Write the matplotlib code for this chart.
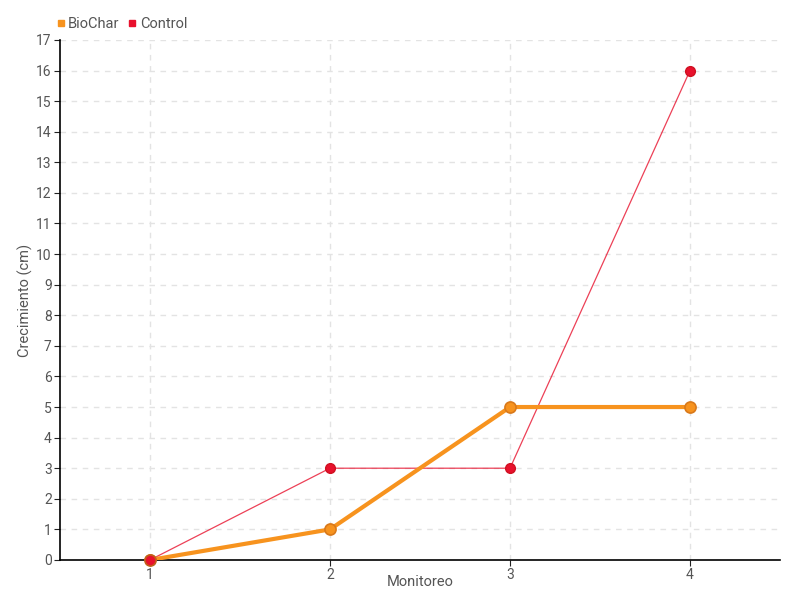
import matplotlib
matplotlib.use("Agg")
import matplotlib.pyplot as plt
from matplotlib.lines import Line2D

# --------------------------
# Data
# --------------------------
monitoreo = [1, 2, 3, 4]
biochar = [0, 1, 5, 5]
control = [0, 3, 3, 16]
yticks = list(range(0, 18))

ORANGE = "#F7931E"
ORANGE_EDGE = "#D9791A"
RED = "#E8112D"
TEXT = "#555555"

plt.rcParams["font.family"] = ["Liberation Sans Narrow", "Roboto", "DejaVu Sans"]

fig = plt.figure(figsize=(8, 6), dpi=100)
ax = fig.add_axes([0.075, 0.0667, 0.9, 0.8667])

ax.plot(monitoreo, control, color=RED, linewidth=0.9, alpha=0.8, zorder=3)
ax.plot(monitoreo, control, linestyle="none", marker="o", markersize=7,
        color=RED, markeredgecolor="#D01020", zorder=4)
ax.plot(monitoreo, biochar, color=ORANGE, linewidth=3, zorder=3,
        marker="o", markersize=8, markerfacecolor=ORANGE,
        markeredgecolor=ORANGE_EDGE, markeredgewidth=1.2)
# control marker at first point sits on top
ax.plot(monitoreo[:1], control[:1], linestyle="none", marker="o", markersize=8,
        color=RED, markeredgecolor="#C0601A", markeredgewidth=1.2, zorder=6,
        clip_on=False)

ax.set_xlim(0.5, 4.5)
ax.set_ylim(0, 17)
ax.set_xticks(monitoreo)
ax.set_yticks(yticks)
ax.tick_params(colors="#222222", labelcolor=TEXT, labelsize=10, length=4,
               direction="out", pad=2)
ax.grid(True, color="#E3E3E3", linestyle=(0, (4, 4)), linewidth=1)
ax.set_axisbelow(True)
for s in ["top", "right"]:
    ax.spines[s].set_visible(False)
ax.spines["left"].set_linewidth(1.2)
ax.spines["bottom"].set_linewidth(1.2)

ax.set_xlabel("Monitoreo", color=TEXT, fontsize=10.5)
ax.set_ylabel("Crecimiento (cm)", color=TEXT, fontsize=10.5)
ax.xaxis.set_label_coords(0.5, -0.028, transform=ax.transAxes)
ax.yaxis.set_label_coords(-0.037, 0.5, transform=ax.transAxes)

handles = [
    Line2D([], [], linestyle="none", marker="s", markersize=5, color=ORANGE, label="BioChar"),
    Line2D([], [], linestyle="none", marker="s", markersize=5, color=RED, label="Control"),
]
fig.legend(handles=handles, loc="upper left", bbox_to_anchor=(0.052, 0.993), ncol=2,
           frameon=False, fontsize=10.5, handletextpad=0.1, columnspacing=0.5,
           handlelength=0.8, labelcolor=TEXT)

fig.savefig("out.png", dpi=100)
